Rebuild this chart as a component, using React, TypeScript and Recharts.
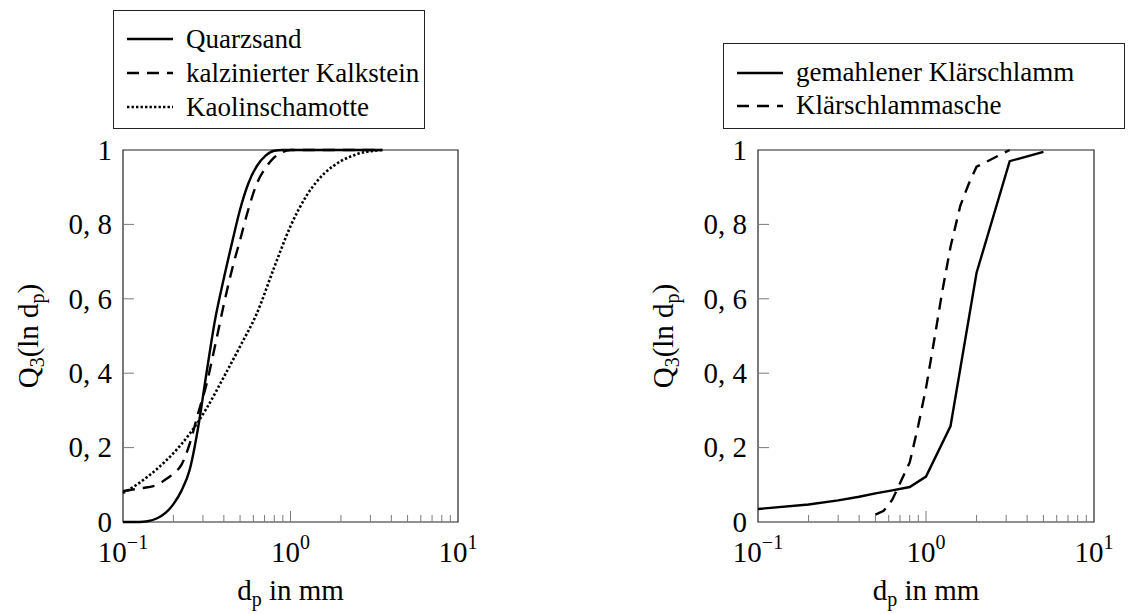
import React from 'react';
import { LineChart, Line, XAxis, YAxis, ReferenceArea } from 'recharts';

const FONT = '"Liberation Serif", "DejaVu Serif", serif';
const TICK_GRAY = '#7a7a7a';

// Summenverteilungen Q3 über Partikeldurchmesser d_p in mm
const quarzsand: [number, number][] = [
  [0.1, 0], [0.125, 0], [0.14, 0.002], [0.16, 0.01], [0.18, 0.025], [0.2, 0.048],
  [0.224, 0.085], [0.25, 0.14], [0.28, 0.25], [0.315, 0.4], [0.355, 0.545], [0.4, 0.655],
  [0.45, 0.755], [0.5, 0.84], [0.56, 0.91], [0.63, 0.957], [0.71, 0.985], [0.8, 0.998],
  [0.9, 1], [1.25, 1], [2, 1], [3.55, 1],
];
const kalkstein: [number, number][] = [
  [0.1, 0.083], [0.125, 0.09], [0.16, 0.1], [0.18, 0.115], [0.2, 0.13], [0.224, 0.155],
  [0.25, 0.21], [0.28, 0.29], [0.315, 0.37], [0.355, 0.475], [0.4, 0.585], [0.45, 0.683],
  [0.5, 0.758], [0.56, 0.84], [0.63, 0.91], [0.71, 0.952], [0.8, 0.98], [0.9, 0.995],
  [1, 1], [2, 1], [3.55, 1],
];
const kaolinschamotte: [number, number][] = [
  [0.1, 0.078], [0.125, 0.105], [0.16, 0.143], [0.2, 0.185], [0.25, 0.237], [0.315, 0.305],
  [0.4, 0.39], [0.5, 0.472], [0.63, 0.561], [0.8, 0.685], [1, 0.795], [1.25, 0.878],
  [1.6, 0.938], [2, 0.97], [2.5, 0.989], [3.15, 0.998], [3.55, 1],
];
const klaerschlamm: [number, number][] = [
  [0.1, 0.035], [0.2, 0.047], [0.3, 0.058], [0.4, 0.068], [0.5, 0.077], [0.63, 0.085],
  [0.8, 0.094], [1, 0.122], [1.4, 0.258], [2, 0.67], [3.15, 0.97], [5, 0.995],
];
const klaerschlammasche: [number, number][] = [
  [0.5, 0.02], [0.56, 0.03], [0.63, 0.06], [0.71, 0.11], [0.8, 0.16], [0.9, 0.26],
  [1, 0.36], [1.12, 0.49], [1.25, 0.62], [1.4, 0.74], [1.6, 0.85], [1.8, 0.91],
  [2, 0.955], [3.15, 1],
];

const xTicks = [
  0.1, 0.2, 0.3, 0.4, 0.5, 0.6, 0.7, 0.8, 0.9,
  1, 2, 3, 4, 5, 6, 7, 8, 9, 10,
];
const yTicks = [0, 0.2, 0.4, 0.6, 0.8, 1];
const yTickLabels = ['0', '0, 2', '0, 4', '0, 6', '0, 8', '1'];

const SOLID = undefined;
const DASHED = '12 8';
const DOTTED = '2.4 2.1';

type Series = { name: string; points: [number, number][]; dash?: string };

const leftSeries: Series[] = [
  { name: 'Quarzsand', points: quarzsand, dash: SOLID },
  { name: 'kalzinierter Kalkstein', points: kalkstein, dash: DASHED },
  { name: 'Kaolinschamotte', points: kaolinschamotte, dash: DOTTED },
];
const rightSeries: Series[] = [
  { name: 'gemahlener Klärschlamm', points: klaerschlamm, dash: SOLID },
  { name: 'Klärschlammasche', points: klaerschlammasche, dash: DASHED },
];

const toRows = (pts: [number, number][]) => pts.map(([x, y]) => ({ x, y }));

function XTick({ x, y, payload }: any) {
  const v: number = payload.value;
  const exp = Math.round(Math.log10(v));
  const major = Math.abs(v - Math.pow(10, exp)) < 1e-9;
  const edge = v === 0.1 || v === 10;
  const len = major ? 11 : 7;
  return (
    <g>
      {!edge && <line x1={x} x2={x} y1={y} y2={y - len} stroke={TICK_GRAY} strokeWidth={1} />}
      {major && (
        <text x={x} y={y + 40} textAnchor="middle" fontFamily={FONT} fontSize={29} fill="#000">
          10
          <tspan fontSize={20} dy={-13}>{exp < 0 ? `\u2212${-exp}` : `${exp}`}</tspan>
        </text>
      )}
    </g>
  );
}

function YTick({ x, y, payload, index }: any) {
  const v: number = payload.value;
  return (
    <g>
      {v > 0 && v < 1 && <line x1={x} x2={x + 11} y1={y} y2={y} stroke={TICK_GRAY} strokeWidth={1} />}
      <text x={x - 11} y={y} dy="0.34em" textAnchor="end" fontFamily={FONT} fontSize={29} fill="#000">
        {yTickLabels[index]}
      </text>
    </g>
  );
}

function YLabel({ viewBox }: any) {
  const cx = viewBox.x + viewBox.width - 95;
  const cy = viewBox.y + viewBox.height / 2;
  return (
    <text
      x={cx}
      y={cy}
      dy="0.34em"
      transform={`rotate(-90, ${cx}, ${cy})`}
      textAnchor="middle"
      fontFamily={FONT}
      fontSize={29}
      fill="#000"
    >
      Q<tspan fontSize={20} dy={6}>3</tspan>
      <tspan dy={-6}>(ln d</tspan>
      <tspan fontSize={20} dy={6}>p</tspan>
      <tspan dy={-6}>)</tspan>
    </text>
  );
}

function XLabel({ viewBox }: any) {
  const cx = viewBox.x + viewBox.width / 2;
  return (
    <text x={cx} y={viewBox.y + 78} textAnchor="middle" fontFamily={FONT} fontSize={29} fill="#000">
      d<tspan fontSize={20} dy={6}>p</tspan>
      <tspan dy={-6}> in mm</tspan>
    </text>
  );
}

function Panel({ series, left, width, marginLeft, marginRight, curve }: {
  series: Series[]; left: number; width: number; marginLeft: number; marginRight: number;
  curve: 'linear' | 'monotone';
}) {
  return (
    <div style={{ position: 'absolute', left, top: 0 }}>
      <LineChart
        width={width}
        height={614}
        margin={{ top: 150, right: marginRight, bottom: 32, left: marginLeft }}
      >
        <XAxis
          dataKey="x"
          type="number"
          scale="log"
          domain={[0.1, 10]}
          ticks={xTicks}
          interval={0}
          height={60}
          tickSize={0}
          tickMargin={0}
          axisLine={false}
          tick={<XTick />}
          label={{ content: (p: any) => <XLabel viewBox={p.viewBox} /> }}
        />
        <YAxis
          dataKey="y"
          type="number"
          domain={[0, 1]}
          ticks={yTicks}
          interval={0}
          width={60}
          tickSize={0}
          tickMargin={0}
          axisLine={false}
          tick={<YTick />}
          label={{ content: (p: any) => <YLabel viewBox={p.viewBox} /> }}
        />
        <ReferenceArea x1={0.1} x2={10} y1={0} y2={1} fill="none" stroke="#222" strokeWidth={1.2} />
        {series.map(s => (
          <Line
            key={s.name}
            data={toRows(s.points)}
            dataKey="y"
            name={s.name}
            type={curve}
            stroke="#000"
            strokeWidth={s.dash === DOTTED ? 2.6 : 2.4}
            strokeDasharray={s.dash}
            dot={false}
            activeDot={false}
            isAnimationActive={false}
          />
        ))}
      </LineChart>
    </div>
  );
}

function LegendBox({ series, left, top, width, rowH, padTop, padBottom }: {
  series: Series[]; left: number; top: number; width: number; rowH: number; padTop: number; padBottom: number;
}) {
  return (
    <div
      style={{
        position: 'absolute', left, top, width, boxSizing: 'border-box',
        border: '1.3px solid #222', paddingTop: padTop, paddingBottom: padBottom, background: '#fff',
        fontFamily: FONT, fontSize: 27, color: '#000',
      }}
    >
      {series.map(s => (
        <div key={s.name} style={{ height: rowH, display: 'flex', alignItems: 'center', whiteSpace: 'nowrap' }}>
          <svg width={46} height={6} style={{ marginLeft: 13, marginRight: 13, flex: 'none' }}>
            <line x1={0} x2={46} y1={3} y2={3} stroke="#000" strokeWidth={2.4} strokeDasharray={s.dash} />
          </svg>
          <span>{s.name}</span>
        </div>
      ))}
    </div>
  );
}

export default function App() {
  return (
    <div style={{ position: 'absolute', left: 0, top: 0, width: 1129, height: 614, background: '#fff', overflow: 'hidden' }}>
      <Panel series={leftSeries} left={0} width={560} marginLeft={63} marginRight={102} curve="monotone" />
      <Panel series={rightSeries} left={560} width={569} marginLeft={138} marginRight={35} curve="linear" />
      <LegendBox series={leftSeries} left={113} top={10} width={312} rowH={34} padTop={11} padBottom={4} />
      <LegendBox series={rightSeries} left={723} top={43} width={402} rowH={33} padTop={12} padBottom={6} />
    </div>
  );
}
